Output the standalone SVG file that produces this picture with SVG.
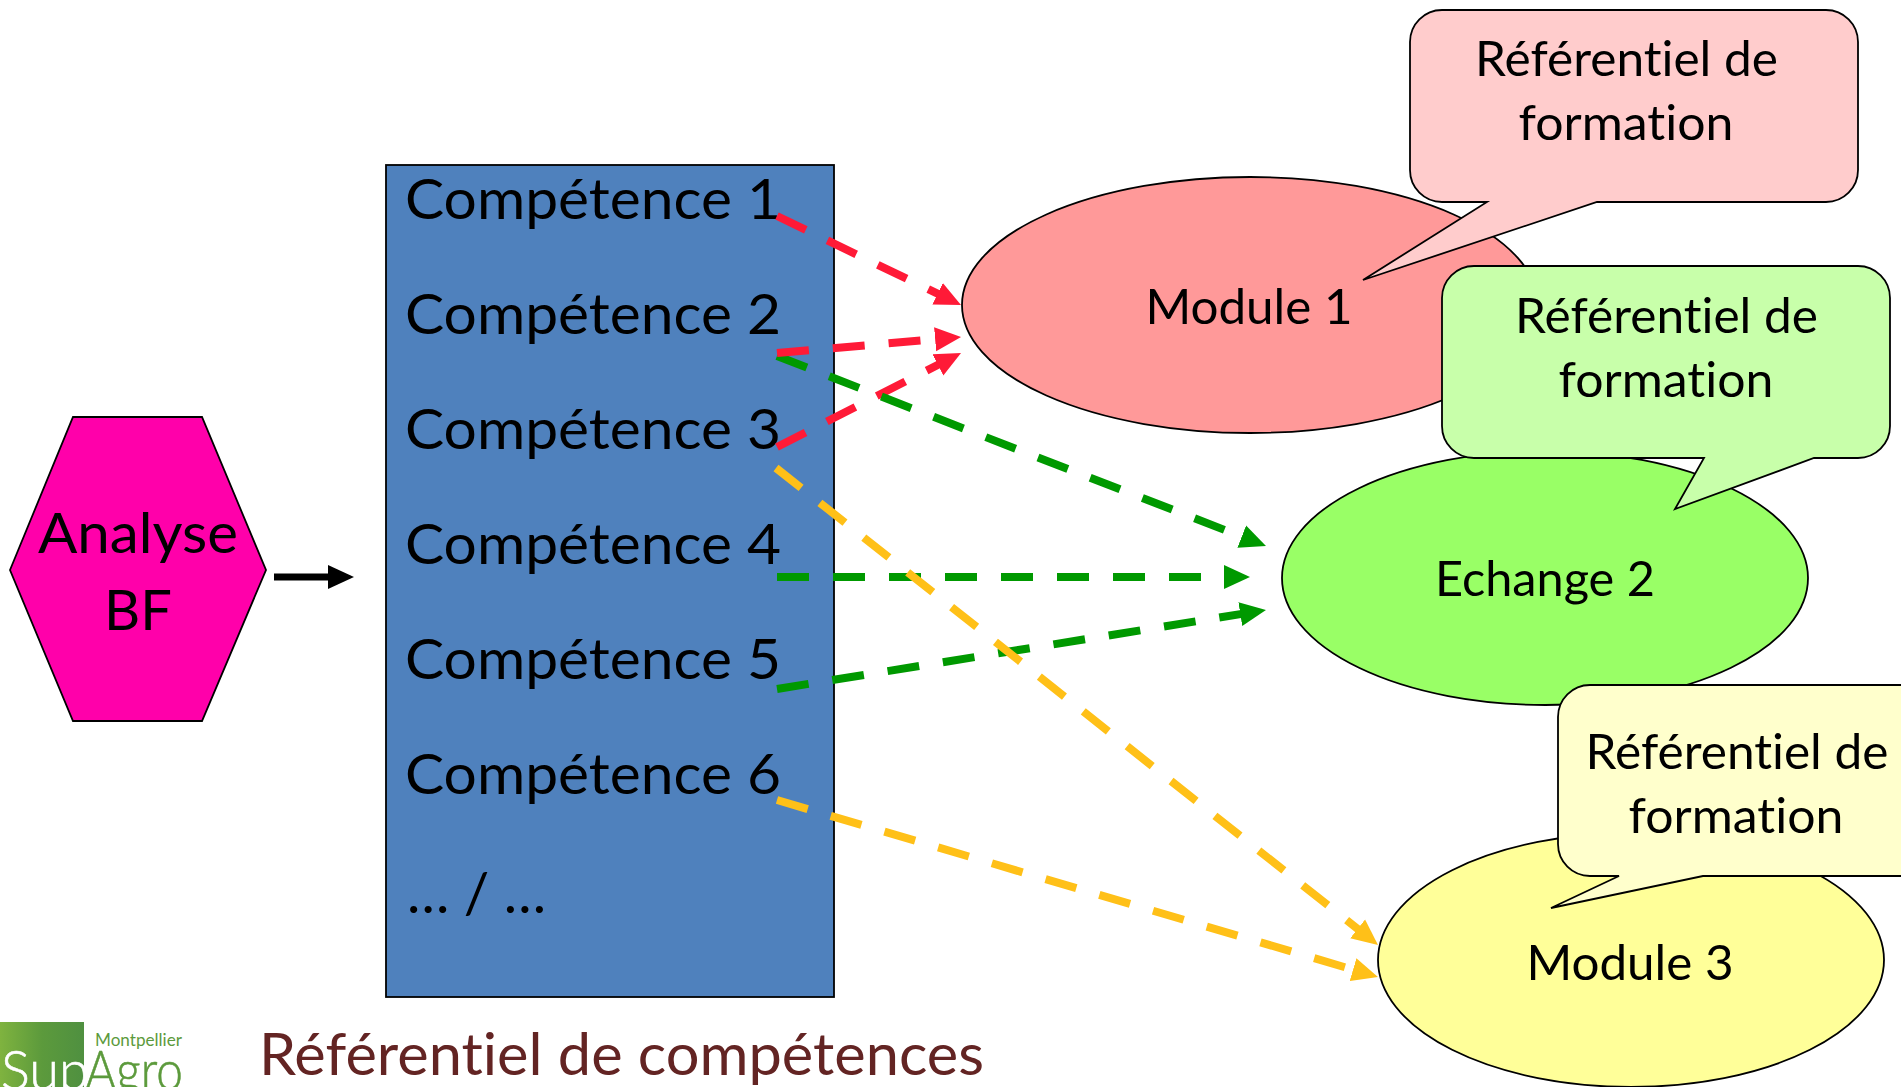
<svg xmlns="http://www.w3.org/2000/svg" width="1901" height="1087" viewBox="0 0 1901 1087">
<style>
text{font-family:Lato,"Liberation Sans",sans-serif;fill:#000;font-variant-ligatures:none}
.c{font-size:56px}
.m{text-anchor:middle}
.b{font-size:49px}
.s{stroke:#000;stroke-width:1.8}
.d{fill:none;stroke-width:8;stroke-dasharray:32 24}
.red{stroke:#ff1a37}.grn{stroke:#009900}.yel{stroke:#ffc018}
</style>
<defs>
<linearGradient id="lg" x1="0" y1="0" x2="1" y2="0"><stop offset="0" stop-color="#7fb33f"/><stop offset=".5" stop-color="#5c9a3c"/><stop offset="1" stop-color="#4f9040"/></linearGradient>
<marker id="ar" markerUnits="userSpaceOnUse" markerWidth="28" markerHeight="26" refX="8" refY="13" orient="auto"><path d="M0 1L26 13L0 25Z" fill="#ff1a37"/></marker>
<marker id="ag" markerUnits="userSpaceOnUse" markerWidth="28" markerHeight="26" refX="8" refY="13" orient="auto"><path d="M0 1L26 13L0 25Z" fill="#009900"/></marker>
<marker id="ay" markerUnits="userSpaceOnUse" markerWidth="28" markerHeight="26" refX="8" refY="13" orient="auto"><path d="M0 1L26 13L0 25Z" fill="#ffc018"/></marker>
<marker id="ak" markerUnits="userSpaceOnUse" markerWidth="28" markerHeight="26" refX="8" refY="13" orient="auto"><path d="M0 1L26 13L0 25Z" fill="#000"/></marker>
</defs>
<rect width="1901" height="1087" fill="#fff"/>
<g id="logo">
<rect x="0" y="1022" width="84" height="65" fill="url(#lg)"/>
<text x="95" y="1046" font-size="17" style="fill:#5c9a3c" textLength="87" lengthAdjust="spacingAndGlyphs">Montpellier</text>
<text x="1" y="1090" font-size="56" font-weight="300" style="fill:#fff;stroke:#fff;stroke-width:.6" textLength="88" lengthAdjust="spacingAndGlyphs">Sup</text>
<text x="85" y="1090" font-size="56" font-weight="300" style="fill:#5c9a3c;stroke:#5c9a3c;stroke-width:.6" textLength="98" lengthAdjust="spacingAndGlyphs">Agro</text>
</g>
<g id="titre"><text x="259" y="1075" font-size="58" style="fill:#632423" textLength="725" lengthAdjust="spacingAndGlyphs">Référentiel de compétences</text></g>
<g id="analyse">
<polygon class="s" points="10,570 73,417 202,417 266,570 202,721 73,721" fill="#ff00aa"/>
<text class="c m" x="138" y="553" textLength="200" lengthAdjust="spacingAndGlyphs">Analyse</text>
<text class="c m" x="138" y="630">BF</text>
</g>
<g id="competences">
<rect class="s" x="386" y="165" width="448" height="832" fill="#4f81bd"/>
<text class="c" x="405" y="219" textLength="376" lengthAdjust="spacingAndGlyphs">Compétence 1</text>
<text class="c" x="405" y="334" textLength="376" lengthAdjust="spacingAndGlyphs">Compétence 2</text>
<text class="c" x="405" y="449" textLength="376" lengthAdjust="spacingAndGlyphs">Compétence 3</text>
<text class="c" x="405" y="564" textLength="376" lengthAdjust="spacingAndGlyphs">Compétence 4</text>
<text class="c" x="405" y="679" textLength="376" lengthAdjust="spacingAndGlyphs">Compétence 5</text>
<text class="c" x="405" y="794" textLength="376" lengthAdjust="spacingAndGlyphs">Compétence 6</text>
<text class="c" x="407" y="913" textLength="139" lengthAdjust="spacingAndGlyphs">… / …</text>
</g>
<g id="module1">
<ellipse class="s" cx="1250" cy="305" rx="288" ry="128" fill="#ff9999"/>
<text class="b m" x="1249" y="324" textLength="207" lengthAdjust="spacingAndGlyphs">Module 1</text>
</g>
<g id="callout1">
<path class="s" fill="#ffcccc" d="M1442 10H1826A32 32 0 0 1 1858 42V170A32 32 0 0 1 1826 202H1597L1363 280L1487 202H1442A32 32 0 0 1 1410 170V42A32 32 0 0 1 1442 10Z"/>
<text class="b m" x="1626.500" y="76" textLength="303" lengthAdjust="spacingAndGlyphs">Référentiel de</text>
<text class="b m" x="1626" y="140" textLength="215" lengthAdjust="spacingAndGlyphs">formation</text>
</g>
<g id="echange2">
<ellipse class="s" cx="1545" cy="578" rx="263" ry="127" fill="#99ff66"/>
<text class="b m" x="1545" y="596" textLength="220" lengthAdjust="spacingAndGlyphs">Echange 2</text>
</g>
<g id="callout2">
<path class="s" fill="#c8ffaa" d="M1474 266H1858A32 32 0 0 1 1890 298V426A32 32 0 0 1 1858 458H1814L1675 509L1704 458H1474A32 32 0 0 1 1442 426V298A32 32 0 0 1 1474 266Z"/>
<text class="b m" x="1666.500" y="333" textLength="303" lengthAdjust="spacingAndGlyphs">Référentiel de</text>
<text class="b m" x="1666" y="397" textLength="215" lengthAdjust="spacingAndGlyphs">formation</text>
</g>
<g id="module3">
<ellipse class="s" cx="1631" cy="960" rx="253" ry="127" fill="#ffff99"/>
<text class="b m" x="1630" y="980" textLength="207" lengthAdjust="spacingAndGlyphs">Module 3</text>
</g>
<g id="callout3">
<path class="s" fill="#ffffcc" d="M1590 685H1980A32 32 0 0 1 2012 717V844A32 32 0 0 1 1980 876H1703L1551 908L1619 876H1590A32 32 0 0 1 1558 844V717A32 32 0 0 1 1590 685Z"/>
<text class="b m" x="1737" y="769" textLength="303" lengthAdjust="spacingAndGlyphs">Référentiel de</text>
<text class="b m" x="1736" y="833" textLength="215" lengthAdjust="spacingAndGlyphs">formation</text>
</g>
<g id="connectors">
<line x1="274" y1="577" x2="336" y2="577" stroke="#000" stroke-width="7" marker-end="url(#ak)"/>
<line class="d grn" x1="777" y1="577" x2="1232" y2="577" marker-end="url(#ag)"/>
<line class="d grn" x1="777" y1="689" x2="1248.200" y2="612.900" marker-end="url(#ag)"/>
<line class="d yel" x1="776" y1="468" x2="1363.900" y2="933.800" marker-end="url(#ay)"/>
<line class="d yel" x1="777" y1="800" x2="1360.700" y2="971.900" marker-end="url(#ay)"/>
<line class="d red" x1="777" y1="216" x2="944.800" y2="297.200" marker-end="url(#ar)"/>
<line class="d red" x1="777" y1="447" x2="945" y2="361.200" marker-end="url(#ar)"/>
<line class="d grn" x1="777" y1="356" x2="1249.200" y2="539.500" marker-end="url(#ag)"/>
<line class="d red" x1="777" y1="353" x2="943.100" y2="338.600" marker-end="url(#ar)"/>
</g>
</svg>
